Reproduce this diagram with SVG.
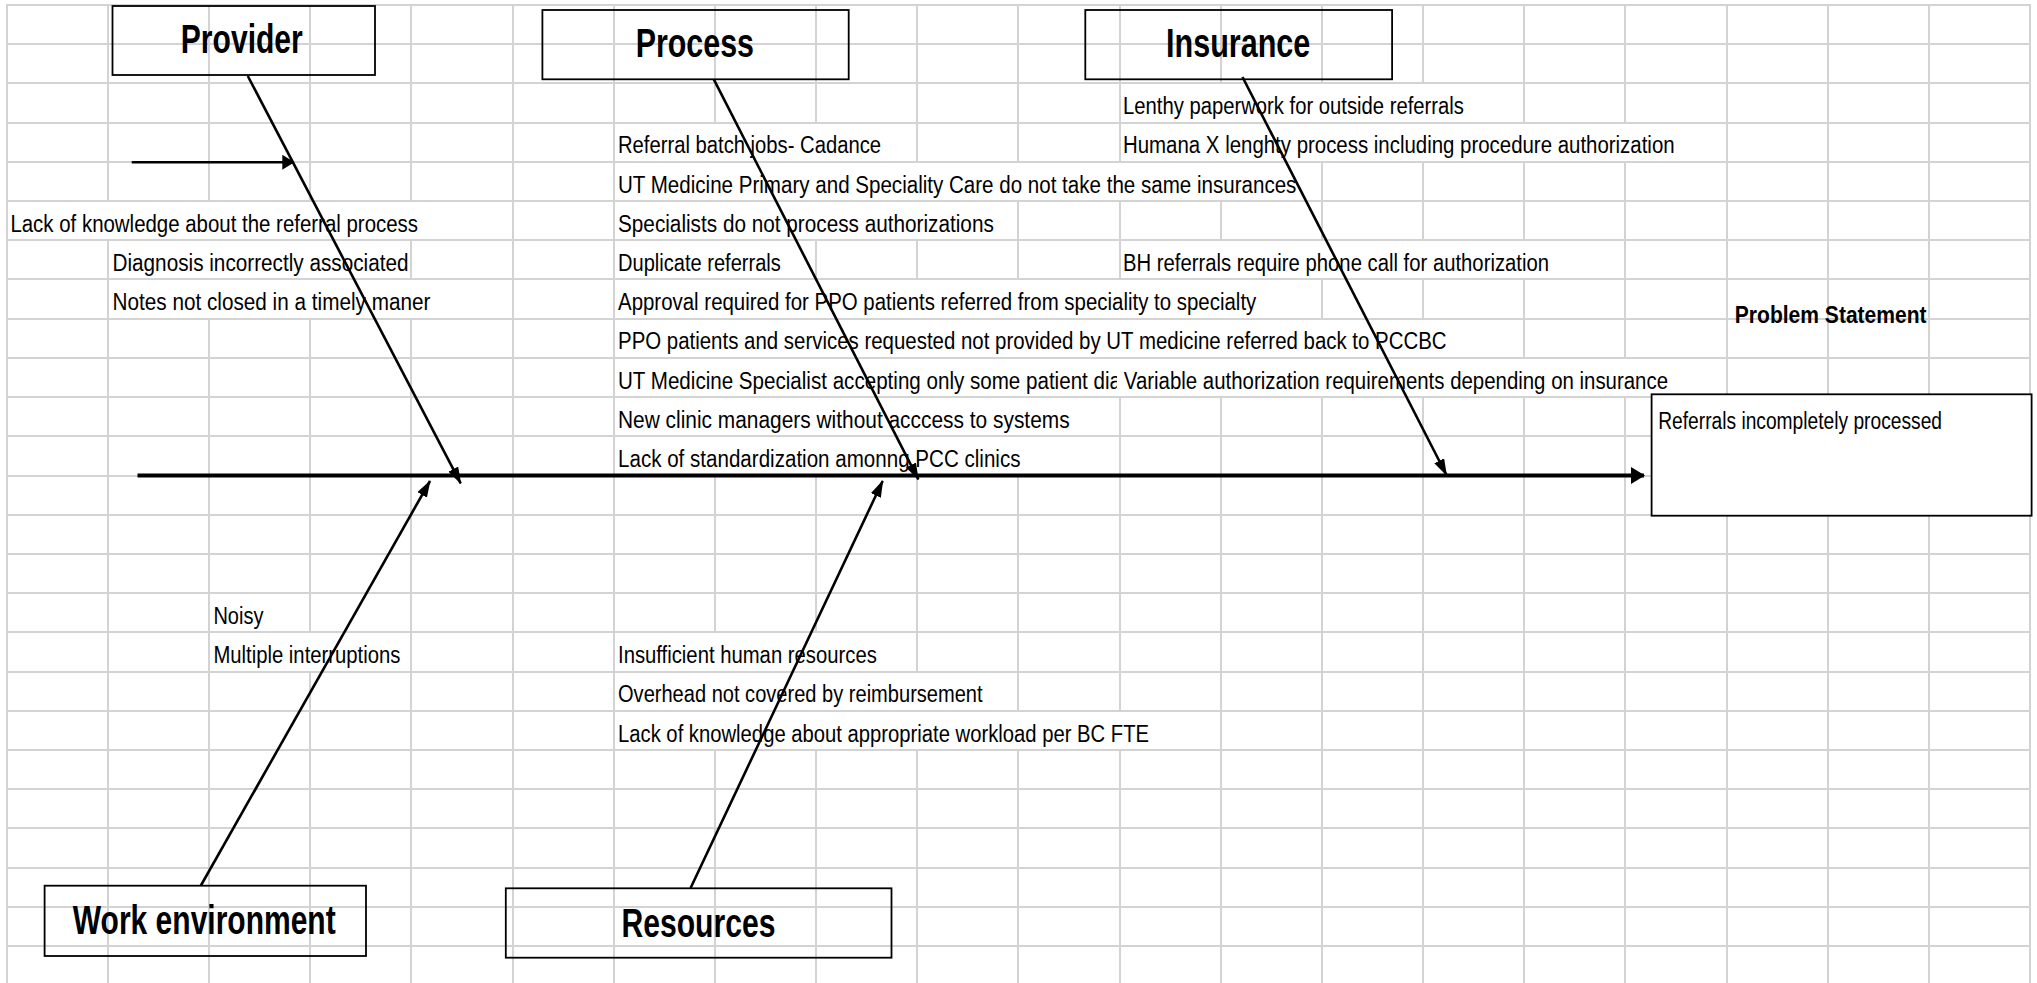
<svg xmlns="http://www.w3.org/2000/svg" width="2037" height="983" viewBox="0 0 2037 983">
<style>
.grid{stroke:#d3d3d3;stroke-width:2;fill:none}
.box{fill:none;stroke:#000;stroke-width:1.8}
.pbox{fill:#fff;stroke:#000;stroke-width:1.8}
.head{font-family:"Liberation Sans",Arial,sans-serif;font-weight:bold;font-size:40px;fill:#000}
.cause{font-family:"Liberation Sans",Arial,sans-serif;font-size:23.5px;fill:#000}
.bold{font-family:"Liberation Sans",Arial,sans-serif;font-weight:bold;font-size:23.5px;fill:#000}
.bone{stroke:#000;stroke-width:2.6;fill:none;marker-end:url(#ah)}
.small{stroke:#000;stroke-width:2.5;fill:none;marker-end:url(#ahs)}
.spine{stroke:#000;stroke-width:4;fill:none;marker-end:url(#ahb)}
</style>
<defs>
<marker id="ah" markerUnits="userSpaceOnUse" markerWidth="17" markerHeight="11" viewBox="0 0 17 11" refX="16" refY="5.5" orient="auto"><path d="M0,0 L17,5.5 L0,11 z" fill="#000"/></marker>
<marker id="ahs" markerUnits="userSpaceOnUse" markerWidth="12" markerHeight="15" viewBox="0 0 12 15" refX="11" refY="7.5" orient="auto"><path d="M0,0 L12,7.5 L0,15 z" fill="#000"/></marker>
<marker id="ahb" markerUnits="userSpaceOnUse" markerWidth="14" markerHeight="17" viewBox="0 0 14 17" refX="13" refY="8.5" orient="auto"><path d="M0,0 L14,8.5 L0,17 z" fill="#000"/></marker>
<clipPath id="clipDia"><rect x="600" y="358" width="517" height="39"/></clipPath>
</defs>
<rect x="0" y="0" width="2037" height="983" fill="#fff"/>
<g id="grid">
<path class="grid" d="M6 5H2031M6 44H2031M6 83H2031M6 123H2031M6 162H2031M6 201H2031M6 240H2031M6 279H2031M6 319H2031M6 358H2031M6 397H2031M6 436H2031M6 476H2031M6 515H2031M6 554H2031M6 593H2031M6 632H2031M6 672H2031M6 711H2031M6 750H2031M6 789H2031M6 828H2031M6 868H2031M6 907H2031M6 946H2031"/>
<path class="grid" d="M7 4V983
M108 4V201M108 240V983
M209 4V201M209 319V983
M310 4V201M310 319V632M310 672V983
M411 4V201M411 240V279M411 319V983
M513 4V983
M614 4V983
M715 4V123M715 476V632M715 750V983
M816 4V123M816 240V279M816 476V632M816 750V983
M917 4V162M917 240V279M917 476V672M917 750V983
M1018 4V162M1018 201V279M1018 476V711M1018 750V983
M1120 4V162M1120 201V279M1120 397V711M1120 750V983
M1221 4V83M1221 201V240M1221 397V983
M1322 4V83M1322 162V240M1322 279V319M1322 397V983
M1423 4V83M1423 162V240M1423 279V319M1423 397V983
M1524 4V123M1524 162V240M1524 279V358M1524 397V983
M1625 4V123M1625 162V358M1625 397V983
M1727 4V983
M1828 4V983
M1929 4V983
M2030 4V983"/>
</g>
<g id="connectors">
<line class="spine" x1="137.5" y1="475.5" x2="1644" y2="475.5"/>
<line class="bone" x1="247.8" y1="76" x2="460.7" y2="483.3"/>
<line class="bone" x1="713.8" y1="79.3" x2="918.3" y2="479.3"/>
<line class="bone" x1="1242.5" y1="77" x2="1446.5" y2="475"/>
<line class="bone" x1="200.9" y1="885.5" x2="430" y2="481"/>
<line class="bone" x1="690.6" y1="888" x2="882.7" y2="481"/>
<line class="small" x1="131.7" y1="162.3" x2="293.3" y2="162.3"/>
</g>
<g id="provider">
<rect class="box" x="112.5" y="6" width="262.5" height="69"/>
<text class="head" x="180.8" y="53.3" textLength="122" lengthAdjust="spacingAndGlyphs">Provider</text>
</g>
<g id="process">
<rect class="box" x="542.4" y="10" width="306.3" height="69.3"/>
<text class="head" x="635.7" y="56.7" textLength="118.3" lengthAdjust="spacingAndGlyphs">Process</text>
</g>
<g id="insurance">
<rect class="box" x="1085.3" y="10" width="306.8" height="69.3"/>
<text class="head" x="1166" y="56.7" textLength="144.3" lengthAdjust="spacingAndGlyphs">Insurance</text>
</g>
<g id="work-environment">
<rect class="box" x="44.6" y="885.7" width="321.4" height="70.3"/>
<text class="head" x="72.8" y="934" textLength="262.9" lengthAdjust="spacingAndGlyphs">Work environment</text>
</g>
<g id="resources">
<rect class="box" x="505.8" y="888.3" width="385.7" height="69.4"/>
<text class="head" x="621.4" y="936.7" textLength="154" lengthAdjust="spacingAndGlyphs">Resources</text>
</g>
<g id="problem-statement">
<text class="bold" x="1734.8" y="322.7" textLength="191.8" lengthAdjust="spacingAndGlyphs">Problem Statement</text>
<rect class="pbox" x="1651.6" y="394.3" width="380" height="121.4"/>
<text class="cause" x="1658.2" y="429.3" textLength="283.8" lengthAdjust="spacingAndGlyphs">Referrals incompletely processed</text>
</g>
<g id="provider-causes">
<text class="cause" x="10.4" y="231.7" textLength="407.6" lengthAdjust="spacingAndGlyphs">Lack of knowledge about the referral process</text>
<text class="cause" x="112.5" y="271" textLength="296" lengthAdjust="spacingAndGlyphs">Diagnosis incorrectly associated</text>
<text class="cause" x="112.5" y="310.2" textLength="317.9" lengthAdjust="spacingAndGlyphs">Notes not closed in a timely maner</text>
</g>
<g id="process-causes">
<text class="cause" x="618" y="153.3" textLength="263" lengthAdjust="spacingAndGlyphs">Referral batch jobs- Cadance</text>
<text class="cause" x="618" y="192.5" textLength="678.4" lengthAdjust="spacingAndGlyphs">UT Medicine Primary and Speciality Care do not take the same insurances</text>
<text class="cause" x="618" y="231.7" textLength="375.8" lengthAdjust="spacingAndGlyphs">Specialists do not process authorizations</text>
<text class="cause" x="618" y="271" textLength="162.8" lengthAdjust="spacingAndGlyphs">Duplicate referrals</text>
<text class="cause" x="618" y="310.2" textLength="638.3" lengthAdjust="spacingAndGlyphs">Approval required for PPO patients referred from speciality to specialty</text>
<text class="cause" x="618" y="349.4" textLength="828.6" lengthAdjust="spacingAndGlyphs">PPO patients and services requested not provided by UT medicine referred back to PCCBC</text>
<text class="cause" x="618" y="388.6" textLength="503" lengthAdjust="spacingAndGlyphs" clip-path="url(#clipDia)">UT Medicine Specialist accepting only some patient dia</text>
<text class="cause" x="618" y="427.8" textLength="451.6" lengthAdjust="spacingAndGlyphs">New clinic managers without acccess to systems</text>
<text class="cause" x="618" y="467" textLength="402.5" lengthAdjust="spacingAndGlyphs">Lack of standardization amonng PCC clinics</text>
</g>
<g id="insurance-causes">
<text class="cause" x="1123" y="113.5" textLength="341" lengthAdjust="spacingAndGlyphs">Lenthy paperwork for outside referrals</text>
<text class="cause" x="1123" y="153.3" textLength="551.6" lengthAdjust="spacingAndGlyphs">Humana X lenghty process including procedure authorization</text>
<text class="cause" x="1123" y="271" textLength="426" lengthAdjust="spacingAndGlyphs">BH referrals require phone call for authorization</text>
<text class="cause" x="1123.8" y="388.6" textLength="544.2" lengthAdjust="spacingAndGlyphs">Variable authorization requirements depending on insurance</text>
</g>
<g id="work-environment-causes">
<text class="cause" x="213.4" y="623.9" textLength="50" lengthAdjust="spacingAndGlyphs">Noisy</text>
<text class="cause" x="213.4" y="663" textLength="187" lengthAdjust="spacingAndGlyphs">Multiple interruptions</text>
</g>
<g id="resources-causes">
<text class="cause" x="618" y="663" textLength="258.8" lengthAdjust="spacingAndGlyphs">Insufficient human resources</text>
<text class="cause" x="618" y="702.3" textLength="364.6" lengthAdjust="spacingAndGlyphs">Overhead not covered by reimbursement</text>
<text class="cause" x="618" y="741.5" textLength="531" lengthAdjust="spacingAndGlyphs">Lack of knowledge about appropriate workload per BC FTE</text>
</g>
</svg>
